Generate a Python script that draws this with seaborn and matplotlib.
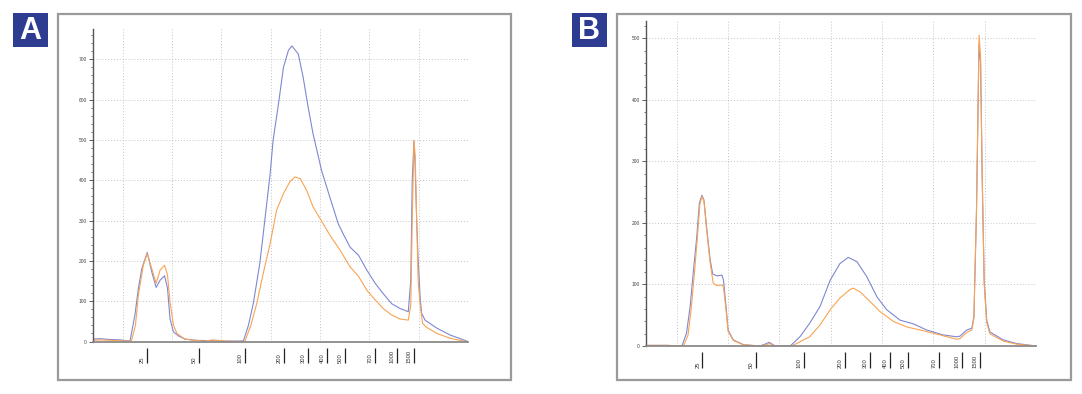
import matplotlib
matplotlib.use("Agg")
import matplotlib.pyplot as plt
from matplotlib.patches import Rectangle
from matplotlib.ticker import MultipleLocator
import seaborn as sns

# Electropherogram traces, migration time (s) vs fluorescence (FU)
a_blue_t = [44.0, 45.4, 47.4, 49.5, 50.7, 51.5, 52.5, 53.2, 53.9, 55.0, 55.9, 56.8, 57.6, 58.5, 59.1, 59.6,
            60.3, 61.3, 62.6, 64.7, 67.7, 70.8, 73.8, 74.5, 75.5, 76.5, 77.8, 78.9, 79.9, 80.5, 81.6, 82.6,
            83.6, 84.3, 85.6, 86.6, 87.6, 88.6, 89.7, 90.3, 92.0, 93.7, 94.7, 96.1, 97.8, 99.5, 101.2, 102.8,
            104.5, 106.2, 107.9, 108.4, 108.7, 109.05, 109.3, 109.6, 109.9, 110.3, 110.6, 111.3, 113.7, 116.4,
            119.1, 120.0]
a_blue_v = [6, 7, 5, 4, 2, 1, 66, 132, 181, 221, 173, 134, 152, 163, 132, 57,
            24, 14, 6, 3, 2, 1, 1, 2, 40, 95, 193, 309, 416, 499, 590, 680,
            722, 733, 713, 655, 581, 515, 457, 425, 358, 292, 267, 234, 214, 177, 144, 119,
            94, 82, 74, 152, 400, 497, 430, 300, 202, 110, 70, 53, 33, 16,
            4, 0]

a_orange_t = [44.0, 45.4, 47.4, 49.5, 51.0, 51.8, 52.6, 53.2, 54.2, 55.0, 55.9, 56.8, 57.6, 58.5, 59.1,
              59.6, 60.3, 61.0, 62.6, 64.7, 66.5, 68.3, 70.8, 73.8, 74.8, 76.0, 77.2, 78.5, 79.9, 81.2,
              82.6, 83.9, 84.9, 86.0, 87.3, 88.6, 90.4, 92.0, 94.1, 96.1, 97.8, 99.5, 101.2, 102.8, 104.5,
              106.2, 107.9, 108.4, 108.7, 109.05, 109.3, 109.6, 109.9, 110.3, 110.8, 111.6, 113.7, 116.4,
              119.1, 120.0]
a_orange_v = [3, 4, 3, 2, 1, 2, 40, 115, 189, 218, 181, 144, 177, 189, 165,
              99, 41, 20, 6, 3, 1, 4, 1, 0, 1, 40, 95, 169, 243, 325,
              367, 396, 408, 404, 375, 334, 297, 264, 226, 185, 162, 127, 103, 82, 66,
              56, 53, 90, 300, 499, 460, 300, 150, 90, 45, 35, 20, 8,
              1, 0]

b_blue_t = [44.0, 48.0, 51.0, 51.9, 52.6, 53.2, 53.9, 54.4, 54.9, 55.3, 55.8, 56.5, 57.0, 57.8, 58.8,
            59.1, 59.6, 60.0, 61.0, 63.0, 66.2, 67.2, 68.0, 68.8, 69.1, 72.1, 74.0, 75.9, 77.9, 79.9,
            81.8, 83.4, 85.1, 87.0, 89.0, 90.9, 93.5, 96.1, 98.7, 101.9, 104.5, 105.2, 106.5, 107.5, 107.9,
            108.4, 108.9, 109.2, 109.5, 109.9, 110.4, 111.0, 113.6, 116.2, 120.0]
b_blue_v = [1, 1, 0, 21, 64, 118, 178, 232, 245, 237, 194, 140, 117, 114, 115,
            107, 64, 26, 10, 2, 0, 3, 6, 2, 0, 0, 15, 37, 64, 107,
            134, 144, 137, 113, 80, 59, 42, 36, 26, 18, 15, 16, 26, 29, 48,
            216, 490, 460, 281, 107, 42, 23, 10, 4, 0]

b_orange_t = [44.0, 48.0, 51.3, 52.2, 52.8, 53.4, 54.0, 54.5, 54.9, 55.3, 55.8, 56.5, 57.1, 57.8, 58.8,
              59.1, 59.6, 60.0, 61.0, 63.0, 66.2, 67.4, 68.1, 69.0, 72.4, 75.9, 77.9, 79.9, 81.8, 83.8,
              84.4, 85.7, 87.7, 89.6, 92.2, 94.8, 97.4, 101.3, 104.5, 105.2, 106.5, 107.5, 107.9, 108.4, 108.9,
              109.2, 109.5, 109.9, 110.4, 111.0, 113.6, 116.2, 120.0]
b_orange_v = [1, 1, 0, 18, 60, 115, 175, 230, 243, 235, 190, 135, 102, 98, 99,
              96, 58, 24, 9, 2, 0, 2, 4, 0, 0, 15, 34, 59, 78, 92,
              94, 88, 72, 56, 40, 31, 26, 18, 11, 12, 22, 26, 45, 220, 505,
              470, 285, 100, 38, 20, 8, 3, 0]

# Ladder (bp) and where each ladder fragment migrates
ladder_sizes = [25, 50, 100, 200, 300, 400, 500, 700, 1000, 1500]
ladder_times = [55.0, 65.5, 74.8, 82.7, 87.6, 91.5, 95.0, 101.1, 105.6, 109.05]

grid_times = [50, 60, 70, 80, 90, 100, 110, 120]
panel_labels = ["A", "B"]
a_yticks = [0, 100, 200, 300, 400, 500, 600, 700]
b_yticks = [0, 100, 200, 300, 400, 500]

BLUE = "#7F87D4"
ORANGE = "#F8A453"
W, H = 1082, 394

sns.set_style("white")
plt.rcParams["font.family"] = ["Liberation Sans", "DejaVu Sans"]

fig = plt.figure(figsize=(W / 100, H / 100), dpi=100)

def add_px_axes(left, top, right, bottom):
    # place an axes by pixel edges
    return fig.add_axes([left / W, 1 - bottom / H, (right - left) / W, (bottom - top) / H])

# gray frame + blue label square for each panel
frames = [(58, 14, 511, 380), (617, 14, 1071, 380)]
squares = [(13, 13), (572, 13)]
for (l, t, r, b), (sx, sy), lab in zip(frames, squares, panel_labels):
    fig.patches.append(Rectangle((l / W, 1 - b / H), (r - l) / W, (b - t) / H, transform=fig.transFigure,
                                 fill=False, edgecolor="#9A9A9A", linewidth=1.6))
    fig.patches.append(Rectangle((sx / W, 1 - (sy + 34) / H), 35 / W, 34 / H, transform=fig.transFigure,
                                 facecolor="#2D3B91", edgecolor="none"))
    fig.text((sx + 17.5) / W, 1 - (sy + 18) / H, lab, color="white", fontsize=22, fontweight="bold",
             ha="center", va="center")

ax_a = add_px_axes(93, 29, 468, 341.5)
ax_b = add_px_axes(646, 21, 1036, 346)

panels = [
    (ax_a, a_blue_t, a_blue_v, a_orange_t, a_orange_v, a_yticks, 775, 312.5),
    (ax_b, b_blue_t, b_blue_v, b_orange_t, b_orange_v, b_yticks, 528, 325.0),
]

for ax, bt, bv, ot, ov, yt, ytop, ax_h in panels:
    sns.lineplot(x=bt, y=bv, ax=ax, color=BLUE, linewidth=0.8, estimator=None, sort=False)
    sns.lineplot(x=ot, y=ov, ax=ax, color=ORANGE, linewidth=0.8, estimator=None, sort=False)

    ax.set_xlim(44, 120)
    ax.set_ylim(0, ytop)
    ax.set_xticks(grid_times)
    ax.set_yticks(yt)
    ax.yaxis.set_minor_locator(MultipleLocator(20))
    ax.tick_params(axis="x", length=0, labelbottom=False)
    ax.tick_params(axis="y", which="major", left=True, length=3, width=0.6, labelsize=3.5,
                   pad=1.5, color="#444444", labelcolor="#444444")
    ax.tick_params(axis="y", which="minor", left=True, length=1.8, width=0.5, color="#444444")
    ax.grid(True, which="major", linestyle=(0, (1, 2)), color="#C4C4C4", linewidth=0.7)
    ax.set_xlabel("")
    ax.set_ylabel("")

    for side in ["top", "right"]:
        ax.spines[side].set_visible(False)
    ax.spines["left"].set_color("#555555")
    ax.spines["left"].set_linewidth(1.0)
    ax.spines["bottom"].set_color("#8A8A8A")
    ax.spines["bottom"].set_linewidth(1.3)

    # ladder marks below the axis
    gap, length = 6.0, 15.5
    y0 = -(gap + length) / ax_h
    y1 = -gap / ax_h
    ax.vlines(ladder_times, y0, y1, transform=ax.get_xaxis_transform(), clip_on=False,
              color="#222222", linewidth=0.9)
    for size, t in zip(ladder_sizes, ladder_times):
        ax.annotate(str(size), xy=(t, y0), xycoords=ax.get_xaxis_transform(), xytext=(-1.5, 0),
                    textcoords="offset points", rotation=90, ha="right", va="bottom",
                    fontsize=4.2, color="#333333")

fig.savefig("out.png", dpi=100, facecolor="white")
